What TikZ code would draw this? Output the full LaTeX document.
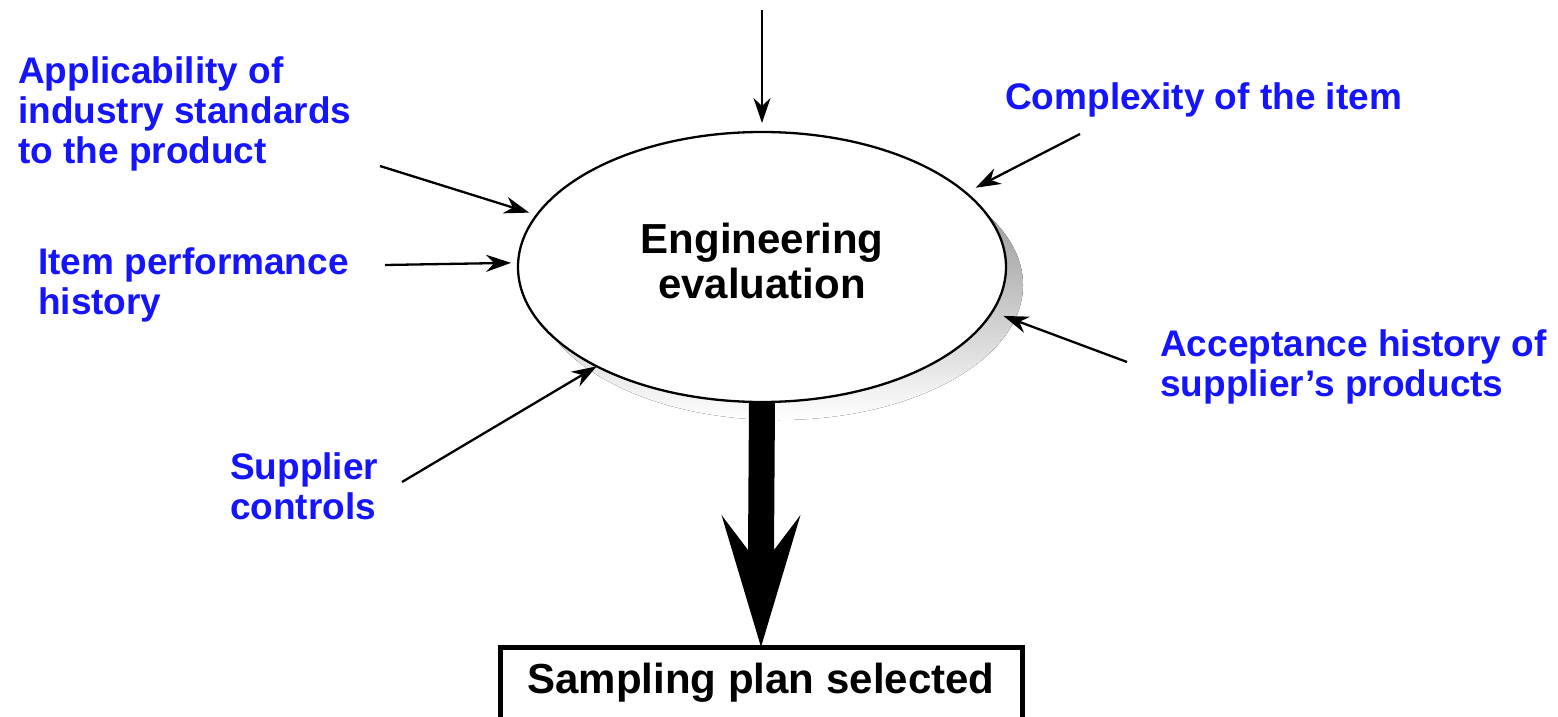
\documentclass[tikz,border=0pt]{standalone}
\usepackage{fontspec}
\setmainfont{Liberation Sans}
\usetikzlibrary{arrows.meta,shapes.geometric,calc}
\definecolor{lblblue}{RGB}{20,20,255}
\definecolor{shade}{RGB}{178,178,178}
\begin{document}
\begin{tikzpicture}[x=1pt,y=-1pt,
  lbl/.style={font=\bfseries\fontsize{37}{40}\selectfont, text=lblblue, align=left, inner sep=0pt, anchor=west},
  feed/.style={line width=2.3pt, -{Stealth[length=25pt,width=17pt,inset=8pt]}},
  bigfont/.style={font=\bfseries\fontsize{42}{45}\selectfont},
]
\useasboundingbox (0,0) rectangle (1558,717);

% drop shadow behind the evaluation ellipse
\fill[shade] (779,285) ellipse [x radius=244pt, y radius=135pt];

% central ellipse and result box
\node[ellipse, draw, line width=2.3pt, fill=white, minimum width=488pt, minimum height=270pt,
      inner sep=0pt, outer sep=0pt, bigfont] (eval) at (762,267)
      {\raisebox{5pt}{\begin{tabular}{@{}c@{}}Engineering\\evaluation\end{tabular}}};
\node[draw, line width=5pt, minimum width=522pt, minimum height=72pt, inner sep=0pt, outer sep=0pt,
      bigfont] (plan) at (761,683) {\raisebox{-3pt}{Sampling plan selected}};

% input labels
\node[lbl] (app)  at (18,114)  {Applicability of\\industry standards\\to the product};
\node[lbl] (cplx) at (1005,100) {Complexity of the item};
\node[lbl] (perf) at (38,285)  {Item performance\\history};
\node[lbl] (acc)  at (1160,367) {Acceptance history of\\supplier’s products};
\node[lbl] (sup)  at (230,486) {Supplier\\controls};

% arrow tails
\coordinate (tTop)  at (762,10);
\coordinate (tApp)  at (380,166);
\coordinate (tPerf) at (385,265);
\coordinate (tSup)  at (402,482);
\coordinate (tCplx) at (1080,134);
\coordinate (tAcc)  at (1127,362);

% input arrows
\draw[feed, shorten >=9pt]  (tTop)  -- (eval.90);
\draw[feed, shorten >=8pt]  (tApp)  -- (eval.167);
\draw[feed, shorten >=7pt]  (tPerf) -- (eval.179.5);
\draw[feed]                 (tSup)  -- (eval.211);
\draw[feed, shorten >=11pt] (tCplx) -- (eval.20);
\draw[feed, shorten >=12pt] (tAcc)  -- (eval.349);

% heavy output arrow
\fill ($(eval.south)+(-13,0)$) -- ($(plan.north)+(-13,-97)$) -- ($(plan.north)+(-39.5,-132)$)
  -- (plan.north) -- ($(plan.north)+(39.5,-132)$) -- ($(plan.north)+(13,-97)$)
  -- ($(eval.south)+(13,0)$) -- cycle;
\end{tikzpicture}
\end{document}
